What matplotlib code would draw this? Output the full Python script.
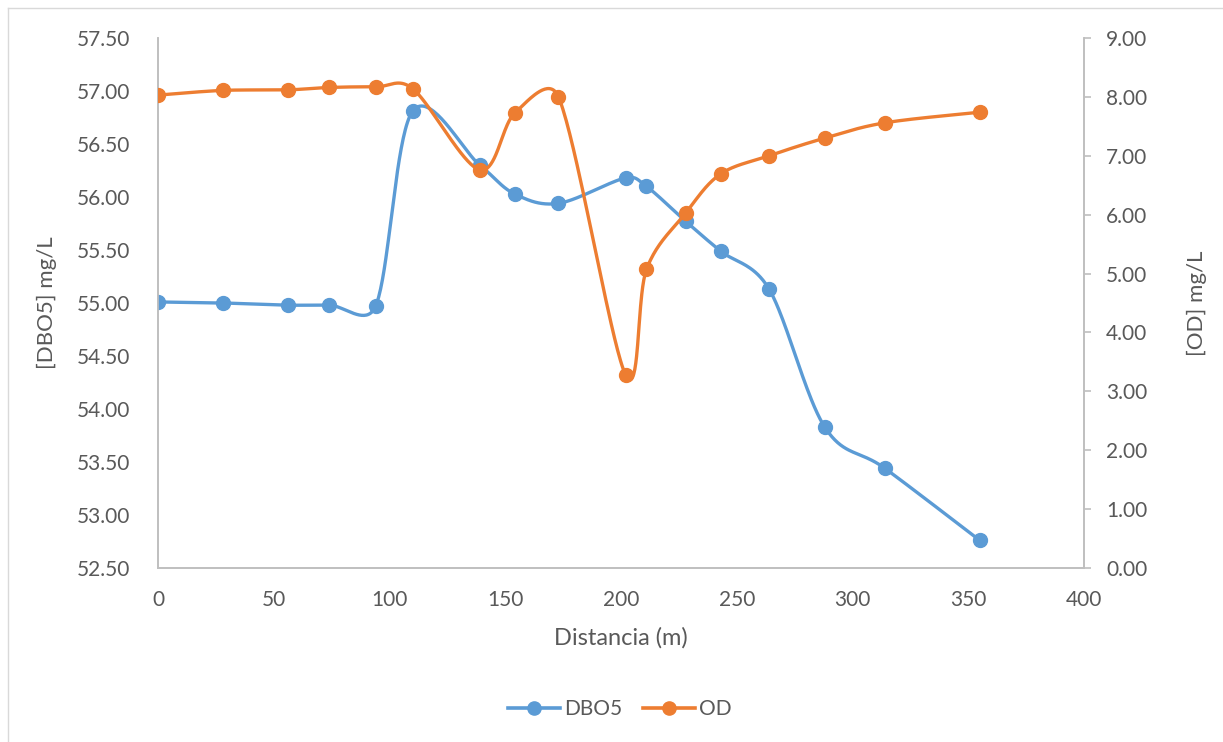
import numpy as np
import matplotlib
matplotlib.use("Agg")
import matplotlib.pyplot as plt
from matplotlib.lines import Line2D

plt.rcParams['font.family'] = ['Lato', 'DejaVu Sans']

distancia = [0, 28, 56, 74, 94, 110, 139, 154, 173, 202, 211, 228, 243, 264, 288, 314, 355]
dbo5 = [55.01, 55.00, 54.98, 54.98, 54.97, 56.81, 56.30, 56.03, 55.94, 56.18, 56.10,
        55.77, 55.49, 55.13, 53.83, 53.44, 52.76]
od = [8.03, 8.11, 8.12, 8.16, 8.17, 8.14, 6.76, 7.72, 8.00, 3.28, 5.07,
      6.03, 6.69, 7.00, 7.30, 7.56, 7.74]

BLUE = '#5B9BD5'
ORANGE = '#ED7D31'
TXT = '#595959'
GRID = '#BFBFBF'


def smooth_on(axis, x, y, n=40):
    """Excel-like smoothed line, computed in display space."""
    pts = axis.transData.transform(np.column_stack([x, y]))
    P = np.vstack([pts[0], pts, pts[-1]])
    out = []
    for i in range(1, len(P) - 2):
        p0, p1, p2, p3 = P[i - 1], P[i], P[i + 1], P[i + 2]
        seg = np.linalg.norm(p2 - p1)
        t1 = (p2 - p0) / 6.0
        t2 = (p3 - p1) / 6.0
        cap = 0.5 * seg
        l1 = np.linalg.norm(t1)
        l2 = np.linalg.norm(t2)
        if l1 > cap and l1 > 0:
            t1 = t1 * cap / l1
        if l2 > cap and l2 > 0:
            t2 = t2 * cap / l2
        c1 = p1 + t1
        c2 = p2 - t2
        t = np.linspace(0, 1, n)[:, None]
        b = ((1 - t) ** 3) * p1 + 3 * ((1 - t) ** 2) * t * c1 + 3 * (1 - t) * t ** 2 * c2 + t ** 3 * p2
        out.append(b if i == 1 else b[1:])
    out = np.vstack(out)
    d = axis.transData.inverted().transform(out)
    return d[:, 0], d[:, 1]


fig = plt.figure(figsize=(12.23, 7.42), dpi=100)
ax = fig.add_axes([158 / 1223, 1 - 568 / 742, (1084 - 158) / 1223, (568 - 38) / 742])
ax2 = ax.twinx()

ax.set_xlim(0, 400)
ax.set_ylim(52.5, 57.5)
ax2.set_ylim(0, 9)

sx, sy = smooth_on(ax, distancia, dbo5)
ax.plot(sx, sy, color=BLUE, lw=2.4, solid_capstyle='round', zorder=2)
ax.plot(distancia, dbo5, 'o', color=BLUE, ms=10, zorder=3)

ox, oy = smooth_on(ax2, distancia, od)
ax2.plot(ox, oy, color=ORANGE, lw=2.4, solid_capstyle='round', zorder=2)
ax2.plot(distancia, od, 'o', color=ORANGE, ms=10, zorder=3)

ax.set_xticks(np.arange(0, 401, 50))
ax.set_yticks(np.arange(52.5, 57.51, 0.5))
ax2.set_yticks(np.arange(0, 9.01, 1))
ax.set_yticklabels([f'{v:.2f}' for v in np.arange(52.5, 57.51, 0.5)])
ax2.set_yticklabels([f'{v:.2f}' for v in np.arange(0, 9.01, 1)])

for a in (ax, ax2):
    a.spines['top'].set_visible(False)
    for s in ('left', 'right', 'bottom'):
        a.spines[s].set_color(GRID)
        a.spines[s].set_linewidth(1.2)

ax.tick_params(axis='x', length=0, labelsize=15, colors=TXT, pad=16)
ax.tick_params(axis='y', length=0, labelsize=15, colors=TXT, pad=20)
ax2.tick_params(axis='y', length=5, width=1.2, color=GRID, labelsize=15, labelcolor=TXT, pad=11, direction='out')

ax.set_xlabel('Distancia (m)', fontsize=17, color=TXT, labelpad=12)
ax.set_ylabel('[DBO5] mg/L', fontsize=16, color=TXT, labelpad=14)
ax2.set_ylabel('[OD] mg/L', fontsize=16, color=TXT, labelpad=28)

handles = [Line2D([], [], color=BLUE, lw=2.6, marker='o', ms=9.5),
           Line2D([], [], color=ORANGE, lw=2.6, marker='o', ms=9.5)]
fig.legend(handles, ['DBO5', 'OD'], loc='center', bbox_to_anchor=(620 / 1223, 1 - 709 / 742),
           ncol=2, frameon=False, fontsize=15, labelcolor=TXT, handlelength=2.5,
           columnspacing=1.0, handletextpad=0.2)

fig.add_artist(Line2D([8 / 1223, 1], [1 - 8 / 742, 1 - 8 / 742], transform=fig.transFigure, color='#D9D9D9', lw=1))
fig.add_artist(Line2D([8 / 1223, 8 / 1223], [0, 1 - 8 / 742], transform=fig.transFigure, color='#D9D9D9', lw=1))

fig.savefig('out.png', dpi=100)
